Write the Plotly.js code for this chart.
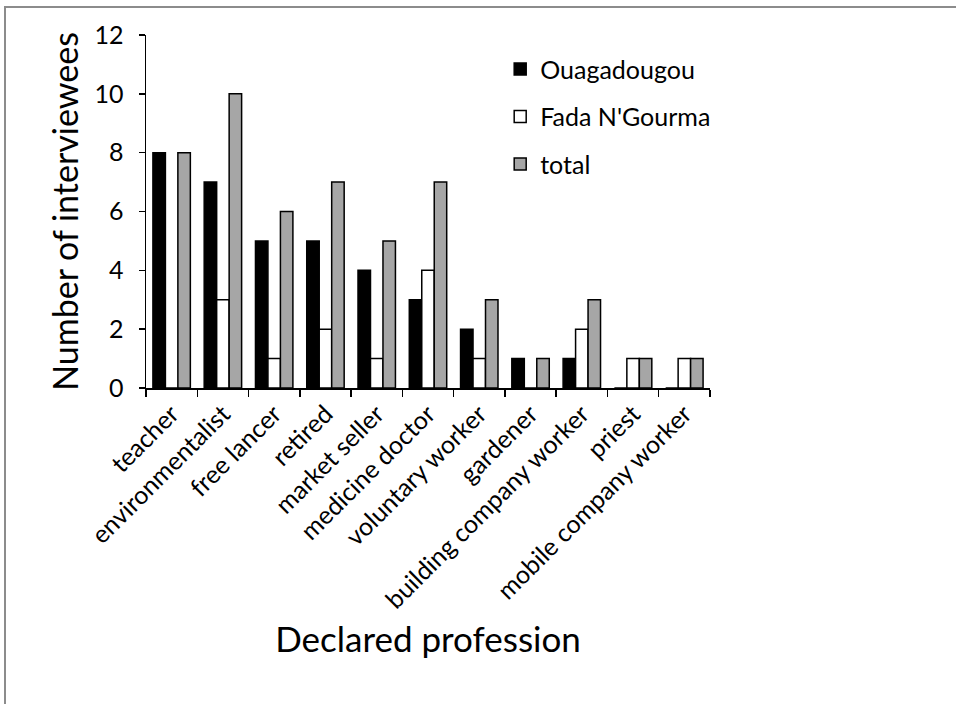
<!DOCTYPE html>
<html>
<head>
<meta charset="utf-8">
<script src="https://cdn.plot.ly/plotly-3.0.1.min.js"></script>
<style>
html,body{margin:0;padding:0;background:#fff;}
#wrap{position:relative;width:956px;height:704px;}
#chart{position:absolute;left:0;top:0;width:956px;height:704px;}
#frame{position:absolute;left:4px;top:6px;right:-2px;bottom:-2px;border-top:2px solid #8c8c8c;border-left:2px solid #8c8c8c;pointer-events:none;}
</style>
</head>
<body>
<div id="wrap"><div id="chart"></div><div id="frame"></div></div>
<script>
const categories = ["teacher","environmentalist","free lancer","retired","market seller","medicine doctor","voluntary worker","gardener","building company worker","priest","mobile company worker"];
const ouagadougou = [8,7,5,5,4,3,2,1,1,0,0];
const fada = [0,3,1,2,1,4,1,0,2,1,1];
const total = [8,10,6,7,5,7,3,1,3,1,1];
const seriesNames = ["Ouagadougou","Fada N'Gourma","total"];

const FONT = "Lato, 'Open Sans', sans-serif";
const colors = ["#000000","#ffffff","#a6a6a6"];
const data = [ouagadougou, fada, total].map((vals,i)=>({
  type:"bar", x:categories, y:vals, name:seriesNames[i],
  legendgroup:"g"+i,
  marker:{color:colors[i], line:{color:"#000", width:1.5}},
  hoverinfo:"x+y+name"
}));

const layout = {
  width:956, height:704,
  margin:{l:146, r:246, t:35, b:316},
  paper_bgcolor:"#fff", plot_bgcolor:"#fff",
  font:{family:FONT, color:"#000", size:25},
  barmode:"group", bargap:0.27, bargroupgap:0,
  showlegend:true,
  legend:{x:0.628, y:0.968, xanchor:"left", yanchor:"top", traceorder:"grouped", tracegroupgap:12,
          font:{family:FONT, size:25, color:"#000"}, bgcolor:"rgba(0,0,0,0)", itemwidth:30},
  xaxis:{type:"category", showline:true, linecolor:"#000", linewidth:1.5, ticks:"outside", ticklen:7, tickwidth:1.5, tickcolor:"#000",
         tickson:"boundaries", tickangle:-45, showgrid:false, zeroline:false,
         tickfont:{family:FONT, size:25},
         title:{text:"Declared profession", font:{family:FONT, size:35}, standoff:14}},
  yaxis:{range:[0,12], dtick:2, showline:true, linecolor:"#000", linewidth:1.5, ticks:"outside", ticklen:6, tickwidth:1.5, tickcolor:"#000",
         ticklabelstandoff:10,
         showgrid:false, zeroline:false, tickfont:{family:FONT, size:25},
         title:{text:"Number of interviewees", font:{family:FONT, size:34}, standoff:5}}
};
Plotly.newPlot("chart", data, layout, {displayModeBar:false, staticPlot:true});
</script>
</body>
</html>
